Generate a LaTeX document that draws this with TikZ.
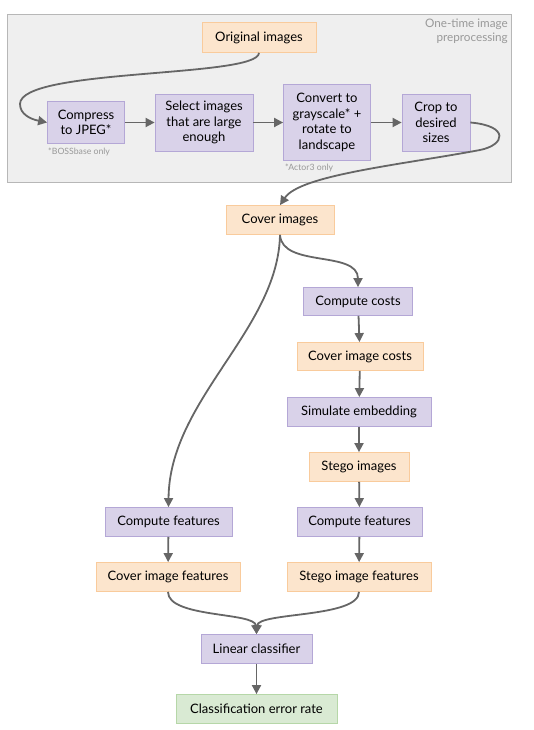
\documentclass[tikz,border=0pt]{standalone}
\usepackage{fontspec}
\setmainfont{Lato}
\usetikzlibrary{arrows.meta}

\definecolor{procfill}{HTML}{D9D2E9}
\definecolor{procline}{HTML}{B4A7D6}
\definecolor{datafill}{HTML}{FCE5CD}
\definecolor{dataline}{HTML}{F9CB9C}
\definecolor{resfill}{HTML}{D9EAD3}
\definecolor{resline}{HTML}{B6D7A8}
\definecolor{panelfill}{HTML}{EFEFEF}
\definecolor{panelline}{HTML}{B7B7B7}
\definecolor{flowcol}{HTML}{666666}
\definecolor{notecol}{HTML}{999999}

\tikzset{
    box/.style={draw, line width=0.8pt, inner sep=2pt, align=center,
        font=\fontsize{13}{15.5}\selectfont},
    proc/.style={box, fill=procfill, draw=procline},
    data/.style={box, fill=datafill, draw=dataline},
    result/.style={box, fill=resfill, draw=resline},
    note/.style={text=notecol, inner sep=0pt, font=\fontsize{8.7}{10}\selectfont},
    flow/.style={draw=flowcol, line width=1.8pt,
        -{Triangle[length=9pt,width=9pt]}}
}

\begin{document}
\begin{tikzpicture}[x=1pt, y=-1pt]
        \useasboundingbox (0,0) rectangle (533,730);

        % 1. Preprocessing panel
        \draw[fill=panelfill, draw=panelline, line width=0.8pt] (7,14) rectangle (511,182);
        \node[anchor=north east, align=right, text=notecol, inner sep=0pt,
            font=\fontsize{11.7}{14}\selectfont] (panellabel) at (508,19) {One-time image\\preprocessing};

        % 2. Preprocessing steps
        \node[data, minimum width=114pt, minimum height=30pt] (orig) at (259,37.5) {Original images};
        \node[proc, minimum width=77pt, minimum height=42pt] (compress) at (86,122.5) {Compress\\to JPEG*};
        \node[proc, minimum width=98pt, minimum height=57pt] (select) at (204,122.5) {Select images\\that are large\\enough};
        \node[proc, minimum width=87pt, minimum height=76pt] (convert) at (327,122.5) {Convert to\\grayscale* +\\rotate to\\landscape};
        \node[proc, minimum width=68pt, minimum height=57pt] (crop) at (436,122.5) {Crop to\\desired\\sizes};
        \node[note, anchor=west] (bossnote) at (48,152) {*BOSSbase only};
        \node[note, anchor=west] (actornote) at (285,168) {*Actor3 only};

        % 3. Embedding branch
        \node[data, minimum width=108pt, minimum height=29pt] (cover) at (280,220) {Cover images};
        \node[proc, minimum width=109pt, minimum height=28pt] (costs) at (358,301.5) {Compute costs};
        \node[data, minimum width=126pt, minimum height=28pt] (covercosts) at (360,356.5) {Cover image costs};
        \node[proc, minimum width=144pt, minimum height=29pt] (simulate) at (359,412) {Simulate embedding};
        \node[data, minimum width=100pt, minimum height=29pt] (stego) at (359,467) {Stego images};

        % 4. Features and classifier
        \node[proc, minimum width=127pt, minimum height=29pt] (featleft) at (168.5,522) {Compute features};
        \node[proc, minimum width=125pt, minimum height=29pt] (featright) at (359.5,522) {Compute features};
        \node[data, minimum width=144pt, minimum height=29pt] (coverfeat) at (168,577) {Cover image features};
        \node[data, minimum width=144pt, minimum height=29pt] (stegofeat) at (359,577) {Stego image features};
        \node[proc, minimum width=111pt, minimum height=29pt] (classifier) at (256.5,649) {Linear classifier};
        \node[result, minimum width=161pt, minimum height=29pt] (error) at (256.5,709) {Classification error rate};

        % 5. Connectors
        \draw[flow] (orig.south) .. controls (258,78) and (20,68) .. (20,104)
            .. controls (20,114) and (30,119) .. (compress.west);
        \draw[flow] (compress) -- (select);
        \draw[flow] (select) -- (convert);
        \draw[flow] (convert) -- (crop);
        \draw[flow] (crop.east) .. controls (510,126) and (505,145) .. (480,150)
            .. controls (400,165) and (300,175) .. (cover.north);
        \draw[flow] (cover.south) .. controls (282,268) and (358,250) .. (costs.north);
        \draw[flow] (cover.south) .. controls (278,330) and (169,400) .. (featleft.north);
        \draw[flow] (costs) -- (covercosts);
        \draw[flow] (covercosts) -- (simulate);
        \draw[flow] (simulate) -- (stego);
        \draw[flow] (stego) -- (featright);
        \draw[flow] (featleft) -- (coverfeat);
        \draw[flow] (featright) -- (stegofeat);
        \draw[flow] (coverfeat.south) .. controls (168,618) and (255,612) .. (classifier.north);
        \draw[flow] (stegofeat.south) .. controls (359,618) and (258,612) .. (classifier.north);
        \draw[flow] (classifier) -- (error);
\end{tikzpicture}
\end{document}
